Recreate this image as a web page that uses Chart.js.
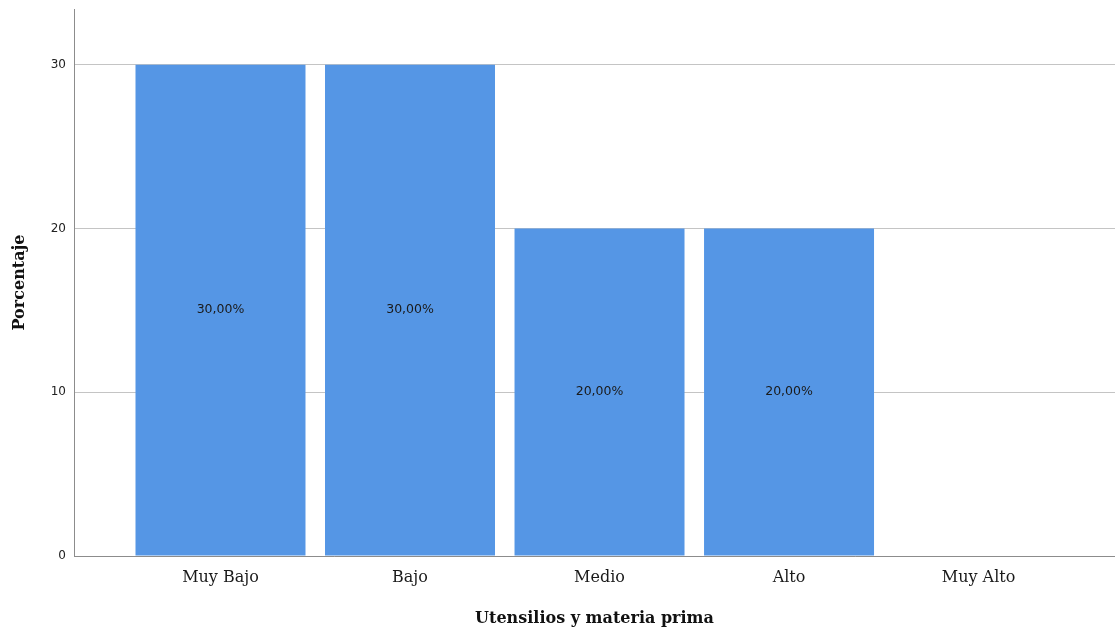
<!DOCTYPE html>
<html>
<head>
<meta charset="utf-8">
<script src="https://cdn.jsdelivr.net/npm/chart.js@4/dist/chart.umd.min.js"></script>
<style>
  html, body { margin: 0; padding: 0; background: #fff; }
  #wrap { width: 1115px; height: 632px; }
</style>
</head>
<body>
<div id="wrap"><canvas id="barChart"></canvas></div>
<script>
// Datos del gráfico
const categorias = ['Muy Bajo', 'Bajo', 'Medio', 'Alto', 'Muy Alto']
const porcentajes = [30, 30, 20, 20, 0]
const etiquetas = ['30,00%', '30,00%', '20,00%', '20,00%', '']
const ticksY = [0, 10, 20, 30]

const barColor = '#5596e5'
const axisColor = '#8c8c8c'
const gridColor = '#c4c4c4'
const serif = '"DejaVu Serif", "Liberation Serif", serif'

// plugin para las etiquetas dentro de las barras
const etiquetasBarras = {
	id: 'etiquetasBarras',
	afterDatasetsDraw(chart) {
		var ctx = chart.ctx
		var meta = chart.getDatasetMeta(0)
		ctx.save()
		ctx.font = '12.5px "DejaVu Sans", sans-serif'
		ctx.fillStyle = '#1a1a1a'
		ctx.textAlign = 'center'
		ctx.textBaseline = 'middle'
		meta.data.forEach(function (bar, i) {
			if (!etiquetas[i]) return
			ctx.fillText(etiquetas[i], bar.x, (bar.y + bar.base) / 2)
		})
		ctx.restore()
	}
}

var ctx = document.getElementById('barChart')
var chart = new Chart(ctx, {
	type: 'bar',
	data: {
		datasets: [{
			data: porcentajes.map(function (v, i) { return { x: i, y: v } }),
			backgroundColor: barColor,
			borderWidth: 0,
			barPercentage: 0.897,
			categoryPercentage: 1
		}]
	},
	options: {
		responsive: true,
		maintainAspectRatio: false,
		animation: false,
		layout: { padding: { top: 9, right: 0, left: 0, bottom: 0 } },
		plugins: { legend: { display: false }, tooltip: { enabled: false } },
		scales: {
			x: {
				type: 'linear',
				offset: false,
				min: -0.773,
				max: 4.72,
				afterBuildTicks: function (scale) {
					scale.ticks = categorias.map(function (c, i) { return { value: i } })
				},
				afterFit: function (scale) { scale.height = 76 },
				grid: { display: false, drawTicks: false },
				border: { display: true, color: axisColor, width: 1 },
				ticks: {
					padding: 12,
					color: '#1a1a1a',
					font: { family: serif, size: 16 },
					callback: function (v) { return categorias[v] }
				},
				title: {
					display: true,
					text: 'Utensilios y materia prima',
					color: '#111',
					padding: { top: 4, bottom: 4 },
					font: { family: serif, size: 16, weight: 'bold' }
				}
			},
			y: {
				min: 0,
				max: 33.4,
				afterBuildTicks: function (scale) {
					scale.ticks = ticksY.map(function (v) { return { value: v } })
				},
				afterFit: function (scale) {
					scale.width = 74
					scale.paddingTop = 0
					scale.paddingBottom = 0
				},
				grid: { color: gridColor, drawTicks: false },
				border: { display: true, color: axisColor, width: 1 },
				ticks: {
					padding: 8,
					color: '#222',
					font: { family: '"DejaVu Sans", sans-serif', size: 12 }
				},
				title: {
					display: true,
					text: 'Porcentaje',
					color: '#111',
					padding: { top: 10, bottom: 4 },
					font: { family: serif, size: 16, weight: 'bold' }
				}
			}
		}
	},
	plugins: [etiquetasBarras]
})
</script>
</body>
</html>
